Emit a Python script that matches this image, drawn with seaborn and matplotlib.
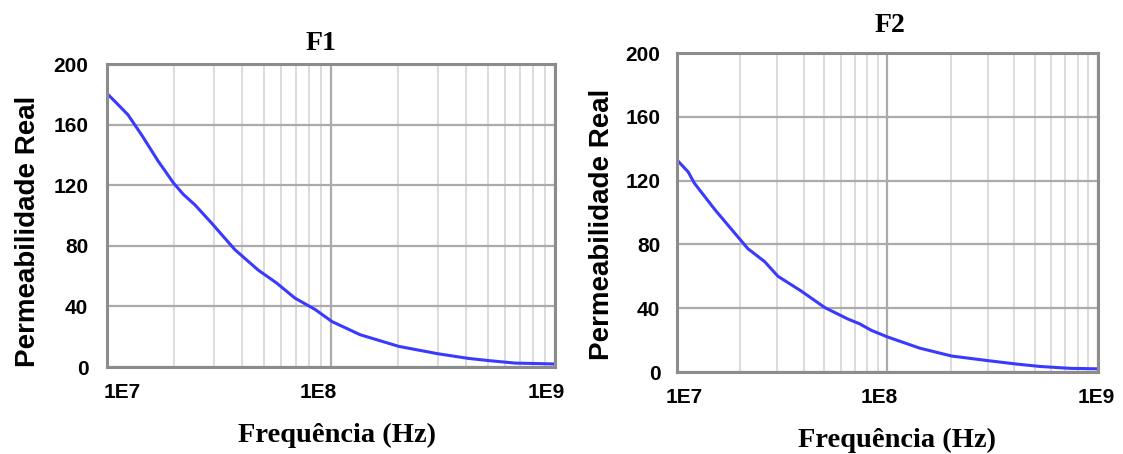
import numpy as np
import pandas as pd
import matplotlib
matplotlib.use("Agg")
import matplotlib.pyplot as plt
import matplotlib.transforms as mtransforms
import seaborn as sb
from matplotlib.ticker import LogLocator, FixedLocator, NullFormatter

# curva F1 (frequencia em Hz, permeabilidade real)
f1_freq = [1.0e7, 1.09e7, 1.24e7, 1.43e7, 1.69e7, 1.98e7, 2.19e7, 2.47e7, 2.93e7,
           3.72e7, 4.73e7, 5.71e7, 6.9e7, 8.49e7, 1.01e8, 1.35e8, 2.01e8, 2.99e8,
           4.1e8, 5.09e8, 6.62e8, 1.0e9]
f1_mu = [180.5, 175, 166.5, 153, 136, 121.5, 114, 107, 95,
         77.5, 64, 55.5, 45.5, 38, 30, 21.3, 13.6, 8.8,
         5.7, 4.2, 2.6, 2.0]

# curva F2
f2_freq = [1.0e7, 1.13e7, 1.21e7, 1.51e7, 1.81e7, 2.17e7, 2.61e7, 3.02e7, 3.9e7,
           5.04e7, 6.49e7, 7.38e7, 8.39e7, 1.0e8, 1.42e8, 2.02e8, 3.06e8, 4.09e8,
           5.28e8, 7.35e8, 1.0e9]
f2_mu = [133, 125.5, 118.4, 102, 89.7, 77.4, 69.2, 60, 50.7,
         40.4, 33.2, 30.2, 26.1, 22, 15, 10, 7, 5,
         3.5, 2.3, 2.0]

titles = ["F1", "F2"]
yticks = [0, 40, 80, 120, 160, 200]
xticks = [1e7, 1e8, 1e9]
xticklabels = ["1E7", "1E8", "1E9"]

sb.set_style("white")
plt.rcParams.update({"text.color": "black", "axes.labelcolor": "black",
                     "xtick.labelcolor": "black", "ytick.labelcolor": "black"})

fig = plt.figure(figsize=(11.23, 4.54), dpi=100)
ax1 = fig.add_axes([0.0953, 0.1916, 0.3989, 0.6674])
ax2 = fig.add_axes([0.6028, 0.1806, 0.3749, 0.7026])

sans = "Liberation Sans"
serif = "Liberation Serif"

# (eixo, x, y, titulo x, pad titulo, deslocamento px dos rotulos x, xlabel x, labelpad, ylabel y, pad y)
layout = [
    (ax1, f1_freq, f1_mu, 0.478, 10, [15, -12.5, -8.5], 0.5145, 15, 0.447, 13.5),
    (ax2, f2_freq, f2_mu, 0.506, 15, [7, -8.5, -2], 0.5226, 15, 0.464, 12),
]
for i, (ax, fr, mu, tx, tpad, dxs, lx, lpad, ly, ypad) in enumerate(layout):
    df = pd.DataFrame({"freq": fr, "mu": mu})
    sb.lineplot(data=df, x="freq", y="mu", ax=ax, color="#3a3aff", linewidth=2.2)
    ax.set_xscale("log")
    ax.set_xlim(1e7, 1e9)
    ax.set_ylim(0, 200)

    ax.xaxis.set_major_locator(FixedLocator(xticks))
    ax.xaxis.set_minor_locator(LogLocator(base=10, subs=np.arange(2, 10)))
    ax.xaxis.set_minor_formatter(NullFormatter())
    ax.set_xticks(xticks)
    ax.set_xticklabels(xticklabels, fontfamily=sans, fontweight="bold", fontsize=15, color="black")
    ax.set_yticks(yticks)
    ax.set_yticklabels([str(v) for v in yticks], fontfamily=sans, fontweight="bold",
                       fontsize=15, color="black")
    ax.tick_params(axis="both", which="both", length=0)
    ax.tick_params(axis="x", pad=11.5)
    ax.tick_params(axis="y", pad=ypad)
    for lab, dx in zip(ax.get_xticklabels(), dxs):
        lab.set_transform(lab.get_transform() +
                          mtransforms.ScaledTranslation(dx / 100, 0, fig.dpi_scale_trans))

    ax.grid(True, which="major", color="#ababab", linewidth=1.6)
    ax.grid(True, which="minor", axis="x", color="#d9d9d9", linewidth=1.3)
    ax.set_axisbelow(True)
    for s in ax.spines.values():
        s.set_color("#8c8c8c")
        s.set_linewidth(2.2)

    ax.set_title(titles[i], fontfamily=serif, fontweight="bold", fontsize=20, pad=tpad, x=tx,
                 color="black")
    ax.set_xlabel("Frequência (Hz)", fontfamily=serif, fontweight="bold", fontsize=20.5,
                  labelpad=lpad, color="black")
    ax.xaxis.label.set_x(lx)
    ax.set_ylabel("Permeabilidade Real", fontfamily=sans, fontweight="bold", fontsize=20,
                  color="black")
    ax.yaxis.set_label_coords(-0.147, ly)

fig.savefig("out.png", dpi=100)
